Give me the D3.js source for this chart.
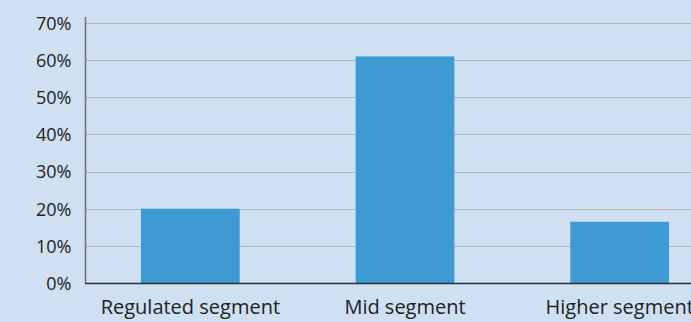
<!DOCTYPE html>
<html><head><meta charset="utf-8">
<script src="https://cdn.jsdelivr.net/npm/d3@7"></script>
<style>
html,body{margin:0;padding:0;background:#cfe0f2;overflow:hidden;}
svg{display:block;}
text{font-family:"Open Sans","Noto Sans",sans-serif;fill:#222;}
</style></head><body>
<svg id="c" width="691" height="322"></svg>
<script>
const categories = ["Regulated segment", "Mid segment", "Higher segment"];
const values = [0.20, 0.61, 0.165];
const yTicks = [0, 0.1, 0.2, 0.3, 0.4, 0.5, 0.6, 0.7];

const W = 691, H = 322;
const svg = d3.select("#c");
svg.append("rect").attr("width", W).attr("height", H).attr("fill", "#cfe0f2");

const x0 = 85.5, y0 = 283, yTop = 23;
const x = d3.scaleBand().domain(categories).range([83, 727]).paddingInner(0.54).paddingOuter(0.27);
const y = d3.scaleLinear().domain([0, 0.7]).range([y0, yTop]);

// gridlines
svg.append("g").selectAll("line").data(yTicks.filter(d => d > 0)).join("line")
  .attr("x1", x0).attr("x2", W)
  .attr("y1", d => Math.round(y(d)) + 0.5).attr("y2", d => Math.round(y(d)) + 0.5)
  .attr("stroke", "#b4b8bd").attr("stroke-width", 1);

// bars
svg.append("g").selectAll("rect").data(categories).join("rect")
  .attr("x", d => x(d)).attr("width", x.bandwidth())
  .attr("y", (d, i) => y(values[i])).attr("height", (d, i) => y0 - y(values[i]))
  .attr("fill", "#3d9ad3");

// y axis
const yAxis = d3.axisLeft(y).tickValues(yTicks).tickFormat(d3.format(".0%")).tickSize(0).tickPadding(14);
const ga = svg.append("g").attr("transform", `translate(${x0},0)`).call(yAxis);
ga.select(".domain").remove();
ga.selectAll("text").attr("font-size", 18).attr("fill", "#222").attr("dy", "0.35em")
  .style("font-family", '"Open Sans","Noto Sans",sans-serif');
svg.append("line").attr("x1", x0).attr("x2", x0).attr("y1", 17).attr("y2", y0)
  .attr("stroke", "#6b6f75").attr("stroke-width", 1.5);

// x axis baseline
svg.append("line").attr("x1", x0 - 0.5).attr("x2", W).attr("y1", y0 + 0.5).attr("y2", y0 + 0.5)
  .attr("stroke", "#2a2f35").attr("stroke-width", 1.5);

// x axis labels
const xAxis = d3.axisBottom(x).tickSize(0).tickPadding(17);
const gx = svg.append("g").attr("transform", `translate(0,${y0})`).call(xAxis);
gx.select(".domain").remove();
gx.selectAll("text").attr("font-size", 20).attr("fill", "#222")
  .style("font-family", '"Open Sans","Noto Sans",sans-serif');
</script>
</body></html>
